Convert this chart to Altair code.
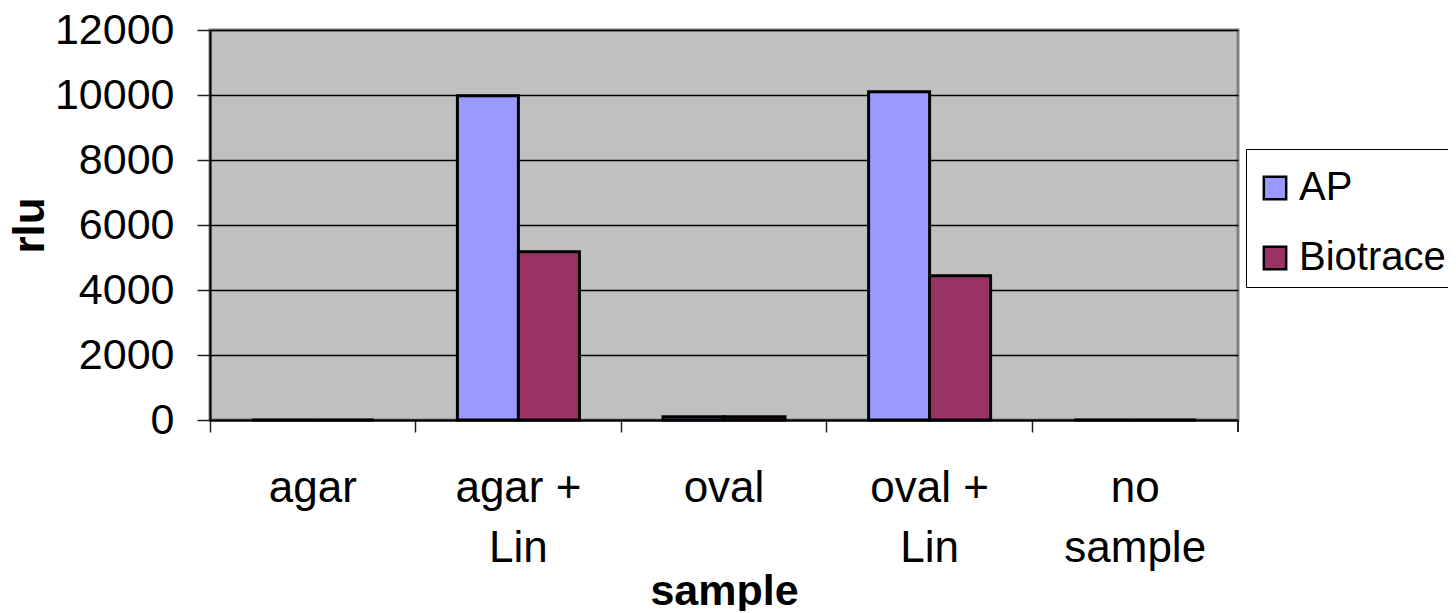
import altair as alt
import pandas as pd

categories = ["agar", "agar +\nLin", "oval", "oval +\nLin", "no\nsample"]
series = ["AP", "Biotrace"]
ap_values = [0, 9980, 100, 10100, 0]
biotrace_values = [0, 5180, 100, 4440, 0]
y_ticks = [0, 2000, 4000, 6000, 8000, 10000, 12000]
colors = ["#9999FF", "#993366"]

rows = []
for c, a, b in zip(categories, ap_values, biotrace_values):
    rows.append({"sample": c, "series": "AP", "rlu": a})
    rows.append({"sample": c, "series": "Biotrace", "rlu": b})
df = pd.DataFrame(rows)

W, H = 1028, 390
FONT = "Liberation Sans"

bars = alt.Chart(df).mark_bar(stroke="black", strokeWidth=3).encode(
    x=alt.X("sample:N", sort=categories,
            scale=alt.Scale(paddingInner=0, paddingOuter=0),
            axis=alt.Axis(title="sample", bandPosition=0,
                          labelAngle=0, labelExpr="split(datum.value, '\\n')",
                          labelFontSize=44, labelLineHeight=60, labelBaseline="top",
                          labelPadding=34, labelColor="black", labelFont=FONT,
                          tickSize=12, tickColor="#222", tickWidth=1.5,
                          domainColor="black", domainWidth=2,
                          titleFontSize=43, titleFont=FONT, titleFontWeight="bold",
                          titlePadding=0, titleColor="black")),
    xOffset=alt.XOffset("series:N", sort=series,
                        scale=alt.Scale(paddingInner=0, paddingOuter=0.685)),
    y=alt.Y("rlu:Q", scale=alt.Scale(domain=[0, 12000], nice=False),
            axis=alt.Axis(title="rlu", values=y_ticks, grid=True, format="d",
                          gridColor="black", gridWidth=1.5,
                          labelFontSize=43, labelFont=FONT, labelColor="black",
                          labelPadding=23, tickSize=13, tickColor="#222", tickWidth=1.5,
                          domainColor="black", domainWidth=2,
                          titleFontSize=44, titleFont=FONT, titleFontWeight="bold",
                          titlePadding=2, titleColor="black")),
    color=alt.Color("series:N", sort=series,
                    scale=alt.Scale(domain=series, range=colors),
                    legend=alt.Legend(title=" ", titleFontSize=2, titlePadding=8,
                                      orient="none",
                                      legendX=W + 8, legendY=119,
                                      symbolType="square", symbolSize=500,
                                      symbolStrokeColor="black", symbolStrokeWidth=2.5,
                                      labelFontSize=40, labelFont=FONT, labelColor="black",
                                      labelOffset=4, rowPadding=30, padding=9,
                                      strokeColor="black", cornerRadius=0,
                                      labelLimit=400)),
)

end_tick = alt.Chart(df).mark_rule(color="#222", strokeWidth=1.5).encode(
    x=alt.value(W), y=alt.value(H), y2=alt.value(H + 12)
)

chart = alt.layer(bars, end_tick).properties(
    width=W, height=H,
    autosize=alt.AutoSizeParams(type="none"),
    padding={"left": 202, "top": 22, "right": 210, "bottom": 191},
).configure(background="white").configure_view(
    fill="#C0C0C0", stroke="#808080", strokeWidth=3
)

chart.save("out.html", embed_options={"renderer": "svg", "actions": False})
